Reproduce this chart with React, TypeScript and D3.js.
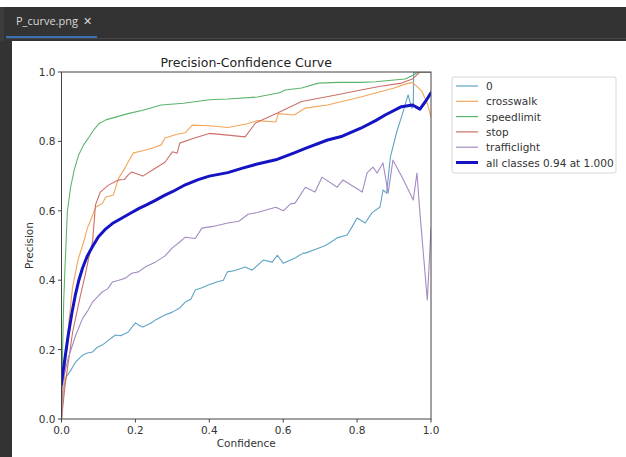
import React from "react";
import * as d3 from "d3";

type Pt = [number, number];

const seriesNames = ["0", "crosswalk", "speedlimit", "stop", "trafficlight"];
const allLabel = "all classes 0.94 at 1.000";
const xTicks = [0, 0.2, 0.4, 0.6, 0.8, 1.0];
const yTicks = [0, 0.2, 0.4, 0.6, 0.8, 1.0];

const class0: Pt[] = [[0,0],[0.003,0.07],[0.011,0.118],[0.025,0.14],[0.038,0.164],[0.057,0.184],[0.07,0.19],[0.084,0.193],[0.095,0.205],[0.11,0.213],[0.125,0.225],[0.146,0.242],[0.16,0.24],[0.18,0.25],[0.2,0.277],[0.21,0.27],[0.22,0.265],[0.24,0.275],[0.254,0.285],[0.28,0.3],[0.3,0.308],[0.32,0.32],[0.335,0.337],[0.35,0.345],[0.362,0.372],[0.38,0.378],[0.397,0.386],[0.42,0.395],[0.438,0.4],[0.449,0.424],[0.47,0.428],[0.497,0.438],[0.516,0.429],[0.546,0.458],[0.57,0.452],[0.584,0.472],[0.6,0.449],[0.632,0.464],[0.654,0.478],[0.66,0.478],[0.69,0.49],[0.714,0.5],[0.73,0.51],[0.746,0.522],[0.773,0.53],[0.786,0.553],[0.8,0.579],[0.822,0.565],[0.84,0.594],[0.862,0.611],[0.87,0.66],[0.88,0.651],[0.89,0.755],[0.897,0.784],[0.908,0.83],[0.92,0.87],[0.938,0.934],[0.948,0.896],[0.952,0.9],[0.953,1.0],[1.0,1.0]];

const crosswalk: Pt[] = [[0,0],[0.01,0.15],[0.02,0.28],[0.03,0.38],[0.045,0.46],[0.06,0.51],[0.07,0.55],[0.078,0.57],[0.092,0.61],[0.1,0.615],[0.11,0.62],[0.12,0.64],[0.14,0.645],[0.155,0.695],[0.17,0.72],[0.18,0.74],[0.195,0.767],[0.22,0.773],[0.245,0.78],[0.27,0.79],[0.28,0.81],[0.31,0.82],[0.335,0.825],[0.354,0.847],[0.4,0.845],[0.45,0.84],[0.5,0.85],[0.53,0.86],[0.58,0.856],[0.587,0.88],[0.63,0.876],[0.66,0.896],[0.72,0.905],[0.81,0.928],[0.9,0.954],[0.93,0.965],[0.95,0.97],[0.96,0.96],[0.975,0.945],[0.99,0.91],[1.0,0.87]];

const speedlimit: Pt[] = [[0,0],[0.003,0.2],[0.006,0.34],[0.01,0.45],[0.016,0.6],[0.025,0.67],[0.035,0.72],[0.046,0.76],[0.06,0.79],[0.073,0.81],[0.085,0.83],[0.1,0.85],[0.12,0.862],[0.146,0.87],[0.18,0.88],[0.22,0.89],[0.27,0.905],[0.33,0.91],[0.4,0.92],[0.45,0.922],[0.53,0.928],[0.59,0.94],[0.605,0.948],[0.65,0.954],[0.695,0.968],[0.75,0.97],[0.81,0.97],[0.85,0.972],[0.9,0.977],[0.93,0.98],[0.95,0.99],[0.965,1.0],[1.0,1.0]];

const stop: Pt[] = [[0,0],[0.01,0.1],[0.03,0.25],[0.05,0.35],[0.065,0.42],[0.075,0.47],[0.084,0.51],[0.092,0.617],[0.105,0.654],[0.127,0.674],[0.154,0.689],[0.17,0.69],[0.18,0.703],[0.19,0.712],[0.22,0.7],[0.245,0.717],[0.28,0.74],[0.3,0.77],[0.313,0.766],[0.32,0.795],[0.36,0.81],[0.4,0.823],[0.45,0.818],[0.497,0.813],[0.525,0.853],[0.58,0.88],[0.62,0.9],[0.65,0.915],[0.7,0.925],[0.75,0.935],[0.81,0.948],[0.86,0.958],[0.92,0.968],[0.95,0.98],[0.97,1.0],[1.0,1.0]];

const trafficlight: Pt[] = [[0,0],[0.003,0.107],[0.018,0.175],[0.038,0.24],[0.057,0.29],[0.07,0.31],[0.084,0.337],[0.1,0.355],[0.11,0.366],[0.125,0.375],[0.138,0.395],[0.155,0.4],[0.173,0.406],[0.19,0.42],[0.208,0.424],[0.23,0.44],[0.254,0.452],[0.28,0.47],[0.3,0.493],[0.32,0.51],[0.335,0.524],[0.362,0.52],[0.38,0.55],[0.41,0.555],[0.45,0.565],[0.48,0.57],[0.505,0.59],[0.53,0.595],[0.58,0.61],[0.6,0.6],[0.62,0.62],[0.632,0.622],[0.66,0.668],[0.686,0.654],[0.705,0.697],[0.746,0.668],[0.762,0.689],[0.814,0.654],[0.827,0.709],[0.843,0.726],[0.854,0.709],[0.87,0.738],[0.884,0.651],[0.897,0.746],[0.922,0.697],[0.952,0.631],[0.962,0.709],[0.97,0.594],[0.99,0.343],[1.0,0.55]];

const allClasses: Pt[] = [[0,0.1],[0.003,0.127],[0.01,0.18],[0.018,0.24],[0.028,0.305],[0.038,0.36],[0.047,0.4],[0.057,0.435],[0.07,0.47],[0.084,0.497],[0.1,0.525],[0.12,0.548],[0.14,0.565],[0.165,0.58],[0.19,0.595],[0.21,0.607],[0.23,0.617],[0.254,0.63],[0.28,0.645],[0.3,0.655],[0.335,0.675],[0.37,0.69],[0.4,0.7],[0.45,0.71],[0.49,0.723],[0.53,0.735],[0.58,0.747],[0.63,0.767],[0.66,0.78],[0.72,0.804],[0.76,0.815],[0.81,0.838],[0.85,0.86],[0.876,0.876],[0.92,0.9],[0.95,0.905],[0.97,0.893],[0.985,0.915],[1.0,0.94]];

const classSeries = [class0, crosswalk, speedlimit, stop, trafficlight];
const colors = ["#5ea3c4", "#f2a65a", "#5cb56a", "#cd6f6a", "#a48bc4"];
const allColor = "#1414c4";

const FONT = "DejaVu Sans, sans-serif";

export default function App() {
  const W = 626, H = 457;
  const left = 61.5, right = 431, top = 72, bottom = 419;
  const x = d3.scaleLinear().domain([0, 1]).range([left, right]);
  const y = d3.scaleLinear().domain([0, 1]).range([bottom, top]);
  const line = d3.line<Pt>().x(d => x(d[0])).y(d => y(d[1]));
  const legX = 452, legY = 77, legW = 164, legH = 96;
  const rowY = (i: number) => 86 + i * 15.3;
  const labels = [...seriesNames, allLabel];
  const legColors = [...colors, allColor];
  return (
    <svg width={W} height={H} style={{ position: "absolute", left: 0, top: 0 }} fontFamily={FONT}>
      <rect x={0} y={0} width={W} height={H} fill="#ffffff" />
      {/* editor chrome */}
      <rect x={0} y={7} width={W} height={34} fill="#333333" />
      <rect x={0} y={7} width={12} height={H - 7} fill="#333333" />
      <rect x={0} y={7} width={4} height={34} fill="#3c3c3c" />
      <rect x={6} y={38} width={W - 6} height={1} fill="#444444" />
      <rect x={6} y={36} width={91} height={2} fill="#3b6fb6" />
      <text x={16} y={25} fontSize={11} fill="#d8d8d8" fontFamily="Open Sans, sans-serif">P_curve.png</text>
      <text x={83} y={25} fontSize={11} fill="#d8d8d8" fontFamily="Open Sans, sans-serif">✕</text>

      <defs>
        <clipPath id="plotclip">
          <rect x={left} y={top} width={right - left} height={bottom - top} />
        </clipPath>
      </defs>

      {/* title */}
      <text x={(left + right) / 2} y={67} fontSize={12.5} textAnchor="middle" fill="#222">Precision-Confidence Curve</text>

      <g clipPath="url(#plotclip)">
        {classSeries.map((s, i) => (
          <path key={i} d={line(s) || ""} fill="none" stroke={colors[i]} strokeWidth={1.1} strokeLinejoin="round" />
        ))}
        <path d={line(allClasses) || ""} fill="none" stroke={allColor} strokeWidth={3} strokeLinejoin="round" strokeLinecap="round" />
      </g>

      {/* axes frame */}
      <rect x={left} y={top} width={right - left} height={bottom - top} fill="none" stroke="#444" strokeWidth={1} />

      {xTicks.map((t, i) => (
        <g key={"x" + i}>
          <line x1={x(t)} x2={x(t)} y1={bottom} y2={bottom + 3.5} stroke="#444" />
          <text x={x(t)} y={bottom + 15} fontSize={10.5} textAnchor="middle" fill="#333">{t.toFixed(1)}</text>
        </g>
      ))}
      {yTicks.map((t, i) => (
        <g key={"y" + i}>
          <line x1={left - 3.5} x2={left} y1={y(t)} y2={y(t)} stroke="#444" />
          <text x={left - 6} y={y(t) + 4} fontSize={10.5} textAnchor="end" fill="#333">{t.toFixed(1)}</text>
        </g>
      ))}
      <text x={(left + right) / 2} y={447} fontSize={10.5} textAnchor="middle" fill="#333">Confidence</text>
      <text transform={`translate(33,${(top + bottom) / 2}) rotate(-90)`} fontSize={10.5} textAnchor="middle" fill="#333">Precision</text>

      {/* legend */}
      <rect x={legX} y={legY} width={legW} height={legH} rx={2} fill="#fff" stroke="#d6d6d6" strokeWidth={1} />
      {labels.map((lab, i) => (
        <g key={"l" + i}>
          <line x1={456} x2={478} y1={rowY(i)} y2={rowY(i)} stroke={legColors[i]} strokeWidth={i === 5 ? 3 : 1.2} />
          <text x={486} y={rowY(i) + 4} fontSize={10.5} fill="#333">{lab}</text>
        </g>
      ))}
    </svg>
  );
}
